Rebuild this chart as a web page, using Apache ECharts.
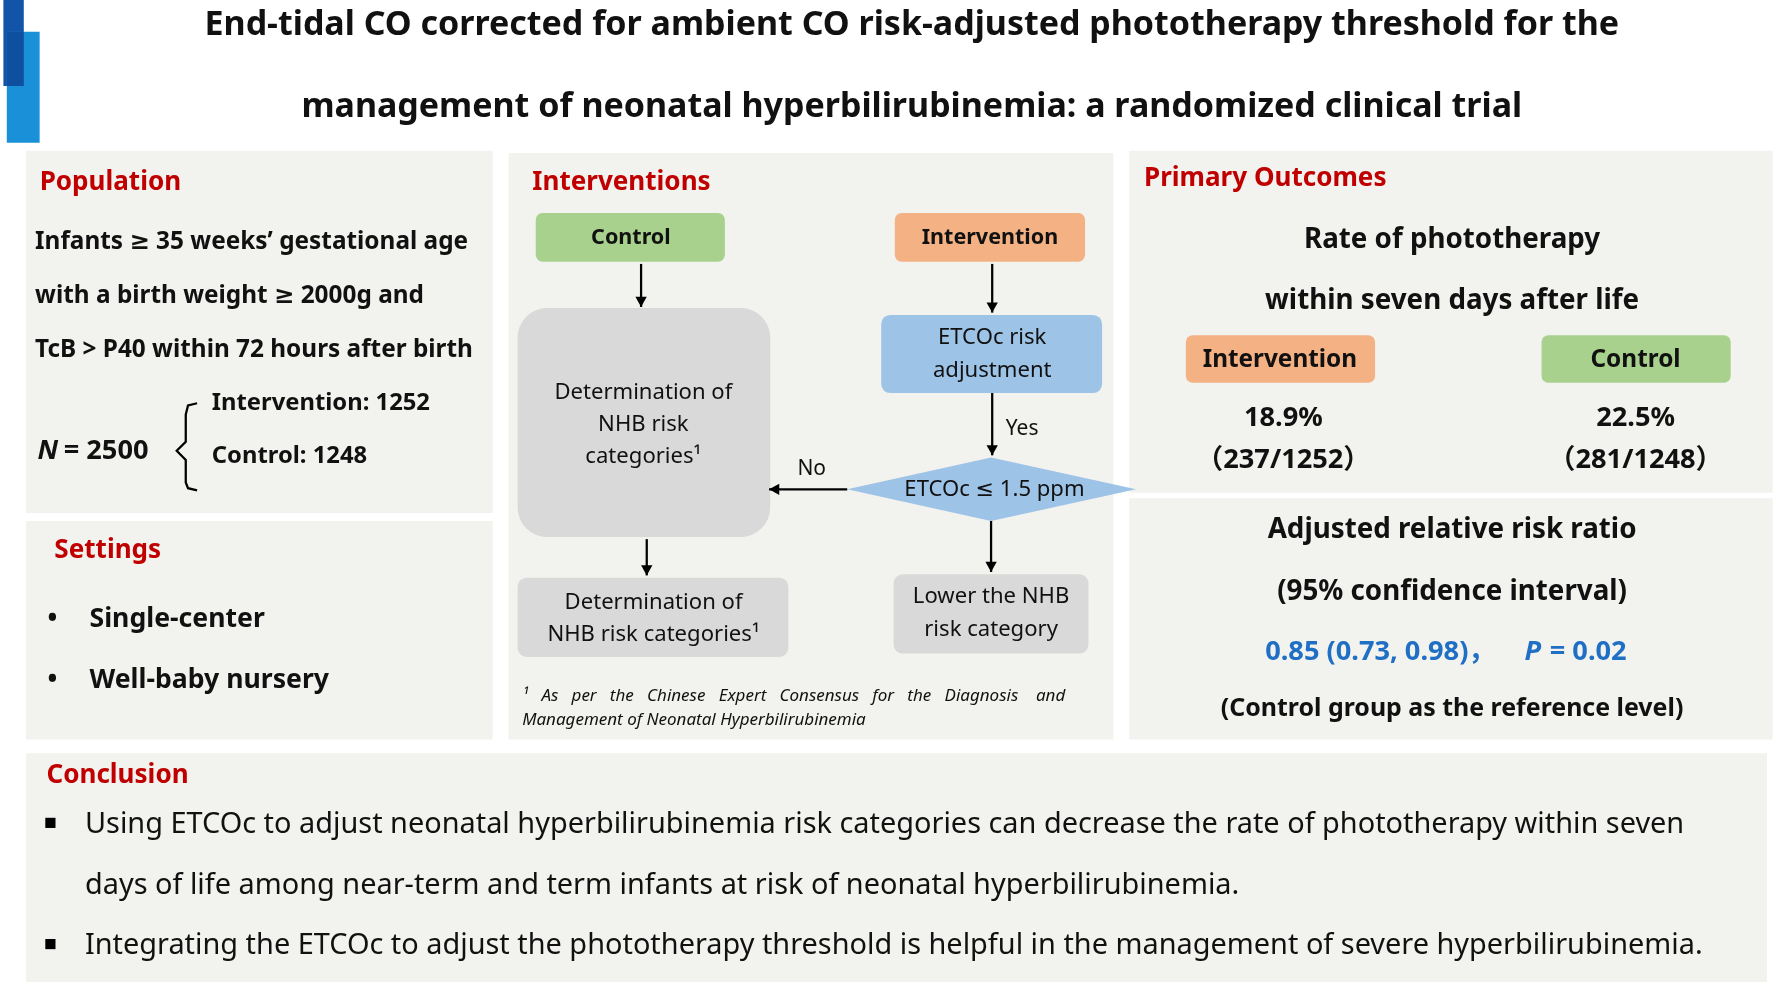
<!DOCTYPE html>
<html><head><meta charset="utf-8">
<script src="https://cdn.jsdelivr.net/npm/echarts@6/dist/echarts.min.js"></script>
<style>html,body{margin:0;padding:0;background:#fff}#c{width:1776px;height:986px}</style>
</head><body><div id="c"></div>
<script>
var groupNames = ['Intervention', 'Control'];
var groupSizes = [1252, 1248];
var phototherapyEvents = [237, 281];
var phototherapyRates = [18.9, 22.5];
var riskRatio = [0.85, 0.73, 0.98];
var pValue = [0.02];

var S = 1776 / 1568;
var F = '"Noto Sans", "DejaVu Sans", sans-serif';
var FC = '"Noto Sans", "Noto Sans CJK SC", sans-serif';
var els = [];
function rect(x, y, w, h, fill, r) { els.push({type:'rect', shape:{x:x,y:y,width:w,height:h,r:r||0}, style:{fill:fill}}); }
function txt(t, x, y, size, opt) {
  opt = opt || {};
  els.push({type:'text', x:x, y:y, style:{text:t, fill:opt.fill||'#111', font:(opt.italic?'italic ':'')+(opt.weight||'bold')+' '+size+'px '+(opt.cjk?FC:F), align:opt.align||'left', verticalAlign:'middle'}});
}
function arrow(x1, y1, x2, y2) {
  els.push({type:'line', shape:{x1:x1,y1:y1,x2:x2,y2:y2}, style:{stroke:'#000', lineWidth:2}});
  var a = Math.atan2(y2-y1, x2-x1), L = 9, W = 5;
  var bx = x2 - L*Math.cos(a), by = y2 - L*Math.sin(a);
  els.push({type:'polygon', shape:{points:[[x2,y2],[bx - W*Math.sin(a), by + W*Math.cos(a)],[bx + W*Math.sin(a), by - W*Math.cos(a)]]}, style:{fill:'#000'}});
}
var PANEL = '#f2f2ee', RED = '#c00000';
rect(3, 0, 18, 76, '#1255a8');
rect(6, 28, 29, 98, '#1a90d9');
rect(6, 28, 15, 48, '#0f4fa0');
txt('End-tidal CO corrected for ambient CO risk-adjusted phototherapy threshold for the', 805, 22, 30, {align:'center'});
txt('management of neonatal hyperbilirubinemia: a randomized clinical trial', 805, 95, 30, {align:'center'});
rect(23, 133, 412, 320, PANEL);
rect(23, 460, 412, 193, PANEL);
rect(449, 135, 534, 518, PANEL);
rect(997, 133, 568, 302, PANEL);
rect(997, 440, 568, 213, PANEL);
rect(23, 665, 1537, 202, PANEL);
// population
txt('Population', 35, 161, 23, {fill:RED});
txt('Infants \u2265 35 weeks\u2019 gestational age', 31, 214, 21.5);
txt('with a birth weight \u2265 2000g and', 31, 261, 21.5);
txt('TcB > P40 within 72 hours after birth', 31, 309, 21.5);
txt('N', 33, 398, 24, {italic:true});
txt(' = ' + (groupSizes[0] + groupSizes[1]), 50, 398, 24);
els.push({type:'polyline', shape:{points:[[174,356],[166,358],[164,366],[164,390],[156,398],[164,406],[164,426],[166,431],[174,433]]}, style:{stroke:'#000', lineWidth:2, fill:null}});
txt(groupNames[0] + ': ' + groupSizes[0], 187, 356, 21);
txt(groupNames[1] + ': ' + groupSizes[1], 187, 403, 21);
// settings
txt('Settings', 48, 486, 23, {fill:RED});
txt('\u2022', 42, 547, 23); txt('Single-center', 79, 547, 23.5);
txt('\u2022', 42, 601, 23); txt('Well-baby nursery', 79, 601, 23.5);
// interventions
txt('Interventions', 470, 161, 23, {fill:RED});
rect(473, 188, 167, 43, '#a9d18e', 6); txt('Control', 557, 210, 19, {align:'center'});
rect(790, 188, 168, 43, '#f4b183', 6); txt('Intervention', 874, 210, 19, {align:'center'});
arrow(566, 233, 566, 271);
arrow(876, 233, 876, 276);
rect(457, 272, 223, 202, '#d9d9d9', 26);
txt('Determination of', 568, 347, 19.5, {align:'center', weight:'normal'});
txt('NHB risk', 568, 375, 19.5, {align:'center', weight:'normal'});
txt('categories\u00b9', 568, 403, 19.5, {align:'center', weight:'normal'});
rect(778, 278, 195, 69, '#9dc3e6', 8);
txt('ETCOc risk', 876, 298, 19.5, {align:'center', weight:'normal'});
txt('adjustment', 876, 327, 19.5, {align:'center', weight:'normal'});
arrow(876, 347, 876, 402);
txt('Yes', 888, 379, 18.5, {weight:'normal'});
els.push({type:'polygon', shape:{points:[[748,432],[875,404],[1003,432],[875,460]]}, style:{fill:'#9dc3e6'}});
txt('ETCOc \u2264 1.5 ppm', 878, 432, 19.5, {align:'center', weight:'normal'});
arrow(748, 432, 679, 432);
txt('No', 704, 414, 18.5, {weight:'normal'});
arrow(571, 476, 571, 508);
arrow(875, 460, 875, 505);
rect(457, 510, 239, 70, '#d9d9d9', 8);
txt('Determination of', 577, 532, 19.5, {align:'center', weight:'normal'});
txt('NHB risk categories\u00b9', 577, 560, 19.5, {align:'center', weight:'normal'});
rect(789, 507, 172, 70, '#d9d9d9', 8);
txt('Lower the NHB', 875, 527, 19.5, {align:'center', weight:'normal'});
txt('risk category', 875, 556, 19.5, {align:'center', weight:'normal'});
txt('\u00b9   As   per   the   Chinese   Expert   Consensus   for   the   Diagnosis    and', 461, 615, 15, {italic:true, weight:'normal'});
txt('Management of Neonatal Hyperbilirubinemia', 461, 636, 15, {italic:true, weight:'normal'});
// outcomes
txt('Primary Outcomes', 1010, 158, 23, {fill:RED});
txt('Rate of phototherapy', 1282, 212, 24.5, {align:'center'});
txt('within seven days after life', 1282, 266, 24.5, {align:'center'});
rect(1047, 296, 167, 42, '#f4b183', 6); txt(groupNames[0], 1130, 318, 21.5, {align:'center'});
rect(1361, 296, 167, 42, '#a9d18e', 6); txt(groupNames[1], 1444, 318, 21.5, {align:'center'});
txt(phototherapyRates[0].toFixed(1) + '%', 1133, 369, 24, {align:'center'});
txt('\uff08' + phototherapyEvents[0] + '/' + groupSizes[0] + '\uff09', 1133, 406, 24, {align:'center', cjk:true});
txt(phototherapyRates[1].toFixed(1) + '%', 1444, 369, 24, {align:'center'});
txt('\uff08' + phototherapyEvents[1] + '/' + groupSizes[1] + '\uff09', 1444, 406, 24, {align:'center', cjk:true});
txt('Adjusted relative risk ratio', 1282, 468, 24.5, {align:'center'});
txt('(95% confidence interval)', 1282, 523, 24.5, {align:'center'});
txt(riskRatio[0].toFixed(2) + ' (' + riskRatio[1].toFixed(2) + ', ' + riskRatio[2].toFixed(2) + ')\uff0c', 1117, 576, 24, {fill:'#1f6fc5', cjk:true});
txt('P', 1346, 576, 24, {fill:'#1f6fc5', italic:true});
txt(' = ' + pValue[0].toFixed(2), 1362, 576, 24, {fill:'#1f6fc5'});
txt('(Control group as the reference level)', 1282, 626, 22, {align:'center'});
// conclusion
txt('Conclusion', 41, 685, 23, {fill:RED});
rect(40, 722, 9, 9, '#000'); rect(40, 829, 9, 9, '#000');
txt('Using ETCOc to adjust neonatal hyperbilirubinemia risk categories can decrease the rate of phototherapy within seven', 75, 728, 25.5, {weight:'normal'});
txt('days of life among near-term and term infants at risk of neonatal hyperbilirubinemia.', 75, 782, 25.5, {weight:'normal'});
txt('Integrating the ETCOc to adjust the phototherapy threshold is helpful in the management of severe hyperbilirubinemia.', 75, 835, 25.5, {weight:'normal'});

var chart = echarts.init(document.getElementById('c'));
chart.setOption({backgroundColor:'#fff', graphic:[{type:'group', scaleX:S, scaleY:S, x:0, y:0, children:els}]});
</script></body></html>
